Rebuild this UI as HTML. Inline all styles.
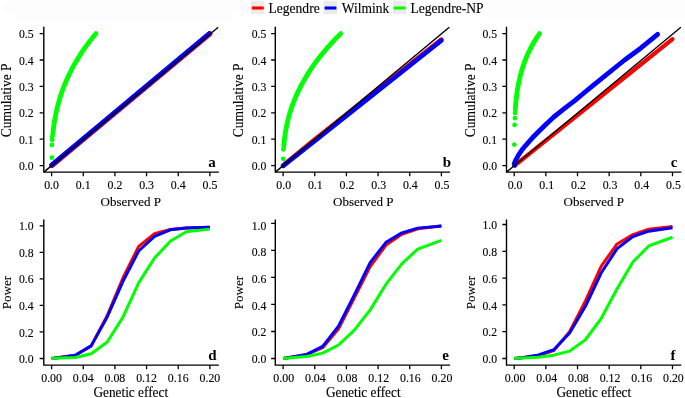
<!DOCTYPE html>
<html lang="en">
<head>
<meta charset="utf-8">
<title>Legendre, Wilmink and Legendre-NP: cumulative P and power</title>
<style>
html,body{margin:0;padding:0;background:#fff;}
body{width:685px;height:398px;overflow:hidden;font-family:"Liberation Serif","Times New Roman",serif;}
svg{display:block;}
text{font-family:"Liberation Serif","Times New Roman",serif;fill:#000;stroke:#000;stroke-width:0.12px;}
text.pl{stroke:none;}
</style>
</head>
<body>
<svg width="685" height="398" viewBox="0 0 685 398" font-family="'Liberation Serif', 'Times New Roman', serif">
<rect width="685" height="398" fill="#fff"/>
<path d="M3 2h244v10h-14v8H16v-8H3zM486 2h199v17H486z" fill="#fdfdfd"/>
<rect x="250.9" y="0.7" width="13.7" height="13.3" fill="#ebebeb"/>
<path d="M251.9 8h11.8" stroke="#ff0000" stroke-width="3.1"/>
<text transform="translate(268.5 12.6) scale(1.005 1.02)" font-size="13.5" text-anchor="start">Legendre</text>
<rect x="323.6" y="0.7" width="13.7" height="13.3" fill="#ebebeb"/>
<path d="M324.6 8h11.8" stroke="#0000ff" stroke-width="3.1"/>
<text transform="translate(341.7 12.6) scale(1.005 1.02)" font-size="13.5" text-anchor="start">Wilmink</text>
<rect x="392.8" y="0.7" width="13.7" height="13.3" fill="#ebebeb"/>
<path d="M393.8 8h11.8" stroke="#00ff00" stroke-width="3.1"/>
<text transform="translate(410.5 12.6) scale(1.005 1.02)" font-size="13.5" text-anchor="start">Legendre-NP</text>
<polyline points="51.92,165.47 209.9,33.73" fill="none" stroke="#ff0000" stroke-width="5.2" stroke-linecap="round" stroke-linejoin="round"/>
<polyline points="51.6,165.07 209.27,33.6" fill="none" stroke="#0000ff" stroke-width="4.8" stroke-linecap="round" stroke-linejoin="round"/>
<polyline points="52.85,133.92 53.11,131.41 53.41,128.9 53.73,126.4 54.09,123.89 54.48,121.38 54.9,118.87 55.37,116.36 55.86,113.86 56.4,111.35 56.97,108.84 57.59,106.33 58.24,103.82 58.94,101.32 59.67,98.81 60.45,96.3 61.27,93.79 62.14,91.28 63.05,88.78 64.01,86.27 65.02,83.76 66.07,81.25 67.17,78.74 68.32,76.24 69.51,73.73 70.76,71.22 72.06,68.71 73.41,66.2 74.81,63.7 76.26,61.19 77.77,58.68 79.33,56.17 80.95,53.66 82.62,51.16 84.35,48.65 86.14,46.14 87.98,43.63 89.88,41.12 91.83,38.62 93.85,36.11 95.92,33.6" fill="none" stroke="#00ff00" stroke-width="4.8" stroke-linecap="round" stroke-linejoin="round"/>
<circle cx="51.92" cy="157.68" r="2.4" fill="#00ff00"/>
<circle cx="51.92" cy="145.01" r="2.4" fill="#00ff00"/>
<circle cx="52.23" cy="139.73" r="2.4" fill="#00ff00"/>
<circle cx="52.23" cy="136.56" r="2.4" fill="#00ff00"/>
<path d="M43.8 172.15L218.2 27.2" stroke="#000" stroke-width="1.4"/>
<path d="M43.8 27.4V172.15H218.2" fill="none" stroke="#000" stroke-width="1.4" stroke-linecap="square"/>
<path d="M39.65 165.6h4.15M39.65 139.2h4.15M39.65 112.8h4.15M39.65 86.4h4.15M39.65 60h4.15M39.65 33.6h4.15M51.6 172.15v4.15M83.26 172.15v4.15M114.92 172.15v4.15M146.58 172.15v4.15M178.24 172.15v4.15M209.9 172.15v4.15" fill="none" stroke="#000" stroke-width="1.3"/>
<text transform="translate(33.6 170.2) scale(0.975 1.06)" font-size="12" text-anchor="end">0.0</text>
<text transform="translate(33.6 143.8) scale(0.975 1.06)" font-size="12" text-anchor="end">0.1</text>
<text transform="translate(33.6 117.4) scale(0.975 1.06)" font-size="12" text-anchor="end">0.2</text>
<text transform="translate(33.6 91) scale(0.975 1.06)" font-size="12" text-anchor="end">0.3</text>
<text transform="translate(33.6 64.6) scale(0.975 1.06)" font-size="12" text-anchor="end">0.4</text>
<text transform="translate(33.6 38.2) scale(0.975 1.06)" font-size="12" text-anchor="end">0.5</text>
<text transform="translate(51.6 189.05) scale(0.99 1.06)" font-size="12" text-anchor="middle">0.0</text>
<text transform="translate(83.26 189.05) scale(0.99 1.06)" font-size="12" text-anchor="middle">0.1</text>
<text transform="translate(114.92 189.05) scale(0.99 1.06)" font-size="12" text-anchor="middle">0.2</text>
<text transform="translate(146.58 189.05) scale(0.99 1.06)" font-size="12" text-anchor="middle">0.3</text>
<text transform="translate(178.24 189.05) scale(0.99 1.06)" font-size="12" text-anchor="middle">0.4</text>
<text transform="translate(209.9 189.05) scale(0.99 1.06)" font-size="12" text-anchor="middle">0.5</text>
<text transform="translate(130.75 205.9) scale(1 1.03)" font-size="13.05" text-anchor="middle">Observed P</text>
<text transform="translate(10.8 100.3) rotate(-90) scale(1 1.02)" font-size="13.5" text-anchor="middle">Cumulative P</text>
<text transform="translate(211.9 166.95)" font-size="15" text-anchor="middle" font-weight="bold" class="pl">a</text>
<polyline points="283.1,165.6 314.76,139.73 441.4,39.67" fill="none" stroke="#ff0000" stroke-width="4.8" stroke-linecap="round" stroke-linejoin="round"/>
<polyline points="283.1,165.86 314.76,141.05 441.4,40.46" fill="none" stroke="#0000ff" stroke-width="4.6" stroke-linecap="round" stroke-linejoin="round"/>
<polyline points="283.8,145.8 284.05,143 284.35,140.19 284.69,137.38 285.09,134.58 285.53,131.78 286.02,128.97 286.57,126.16 287.17,123.36 287.83,120.56 288.54,117.75 289.31,114.94 290.14,112.14 291.03,109.33 291.98,106.53 292.99,103.72 294.07,100.92 295.21,98.11 296.41,95.31 297.68,92.51 299.01,89.7 300.41,86.9 301.88,84.09 303.42,81.28 305.02,78.48 306.7,75.67 308.45,72.87 310.27,70.06 312.16,67.26 314.12,64.45 316.16,61.65 318.27,58.84 320.46,56.04 322.72,53.23 325.06,50.43 327.47,47.62 329.97,44.82 332.54,42.01 335.19,39.21 337.91,36.41 340.72,33.6" fill="none" stroke="#00ff00" stroke-width="4.8" stroke-linecap="round" stroke-linejoin="round"/>
<circle cx="283.26" cy="158.82" r="2.4" fill="#00ff00"/>
<circle cx="283.42" cy="149.23" r="2.4" fill="#00ff00"/>
<path d="M275.3 172.15L449.3 27.2" stroke="#000" stroke-width="1.4"/>
<path d="M275.3 27.4V172.15H449.4" fill="none" stroke="#000" stroke-width="1.4" stroke-linecap="square"/>
<path d="M271.15 165.6h4.15M271.15 139.2h4.15M271.15 112.8h4.15M271.15 86.4h4.15M271.15 60h4.15M271.15 33.6h4.15M283.1 172.15v4.15M314.76 172.15v4.15M346.42 172.15v4.15M378.08 172.15v4.15M409.74 172.15v4.15M441.4 172.15v4.15" fill="none" stroke="#000" stroke-width="1.3"/>
<text transform="translate(266.3 170.2) scale(0.975 1.06)" font-size="12" text-anchor="end">0.0</text>
<text transform="translate(266.3 143.8) scale(0.975 1.06)" font-size="12" text-anchor="end">0.1</text>
<text transform="translate(266.3 117.4) scale(0.975 1.06)" font-size="12" text-anchor="end">0.2</text>
<text transform="translate(266.3 91) scale(0.975 1.06)" font-size="12" text-anchor="end">0.3</text>
<text transform="translate(266.3 64.6) scale(0.975 1.06)" font-size="12" text-anchor="end">0.4</text>
<text transform="translate(266.3 38.2) scale(0.975 1.06)" font-size="12" text-anchor="end">0.5</text>
<text transform="translate(283.7 189.05) scale(0.99 1.06)" font-size="12" text-anchor="middle">0.0</text>
<text transform="translate(315.36 189.05) scale(0.99 1.06)" font-size="12" text-anchor="middle">0.1</text>
<text transform="translate(347.02 189.05) scale(0.99 1.06)" font-size="12" text-anchor="middle">0.2</text>
<text transform="translate(378.68 189.05) scale(0.99 1.06)" font-size="12" text-anchor="middle">0.3</text>
<text transform="translate(410.34 189.05) scale(0.99 1.06)" font-size="12" text-anchor="middle">0.4</text>
<text transform="translate(442 189.05) scale(0.99 1.06)" font-size="12" text-anchor="middle">0.5</text>
<text transform="translate(363.25 205.9) scale(1 1.03)" font-size="13.05" text-anchor="middle">Observed P</text>
<text transform="translate(243.3 100.3) rotate(-90) scale(1 1.02)" font-size="13.5" text-anchor="middle">Cumulative P</text>
<text transform="translate(447 166.95)" font-size="15" text-anchor="middle" font-weight="bold" class="pl">b</text>
<polyline points="515.15,165.07 672.5,39.14" fill="none" stroke="#ff0000" stroke-width="4.2" stroke-linecap="round" stroke-linejoin="round"/>
<polyline points="514.52,165.34 514.2,163.7 515.91,159.79 518.09,155.81 520.31,152.29 522.49,149.21 525.6,145.51 528.61,142.21 532.91,137.3 545.01,125.21 553.81,117 564.6,108.44 575.11,100.39 584.2,92.74 593.19,85.29 624.6,60 640.68,48.2 657.62,34.39" fill="none" stroke="#0000ff" stroke-width="4.8" stroke-linecap="round" stroke-linejoin="round"/>
<polyline points="515.26,109.63 515.39,107.73 515.55,105.83 515.71,103.93 515.89,102.03 516.09,100.13 516.3,98.23 516.53,96.33 516.77,94.43 517.03,92.52 517.32,90.62 517.62,88.72 517.94,86.82 518.29,84.92 518.66,83.02 519.05,81.12 519.47,79.22 519.91,77.32 520.38,75.42 520.87,73.52 521.4,71.62 521.95,69.72 522.54,67.81 523.15,65.91 523.8,64.01 524.48,62.11 525.2,60.21 525.95,58.31 526.74,56.41 527.57,54.51 528.44,52.61 529.35,50.71 530.3,48.81 531.29,46.91 532.32,45 533.4,43.1 534.53,41.2 535.71,39.3 536.93,37.4 538.2,35.5 539.53,33.6" fill="none" stroke="#00ff00" stroke-width="4.8" stroke-linecap="round" stroke-linejoin="round"/>
<circle cx="514.29" cy="144.61" r="2.4" fill="#00ff00"/>
<circle cx="514.61" cy="124.94" r="2.4" fill="#00ff00"/>
<circle cx="514.9" cy="118.08" r="2.4" fill="#00ff00"/>
<circle cx="515.09" cy="113.06" r="2.4" fill="#00ff00"/>
<path d="M506.5 172.15L680.9 27.2" stroke="#000" stroke-width="1.4"/>
<path d="M506.5 27.4V172.15H680.6" fill="none" stroke="#000" stroke-width="1.4" stroke-linecap="square"/>
<path d="M502.35 165.6h4.15M502.35 139.2h4.15M502.35 112.8h4.15M502.35 86.4h4.15M502.35 60h4.15M502.35 33.6h4.15M514.2 172.15v4.15M545.86 172.15v4.15M577.52 172.15v4.15M609.18 172.15v4.15M640.84 172.15v4.15M672.5 172.15v4.15" fill="none" stroke="#000" stroke-width="1.3"/>
<text transform="translate(497.1 170.2) scale(0.975 1.06)" font-size="12" text-anchor="end">0.0</text>
<text transform="translate(497.1 143.8) scale(0.975 1.06)" font-size="12" text-anchor="end">0.1</text>
<text transform="translate(497.1 117.4) scale(0.975 1.06)" font-size="12" text-anchor="end">0.2</text>
<text transform="translate(497.1 91) scale(0.975 1.06)" font-size="12" text-anchor="end">0.3</text>
<text transform="translate(497.1 64.6) scale(0.975 1.06)" font-size="12" text-anchor="end">0.4</text>
<text transform="translate(497.1 38.2) scale(0.975 1.06)" font-size="12" text-anchor="end">0.5</text>
<text transform="translate(515.1 189.05) scale(0.99 1.06)" font-size="12" text-anchor="middle">0.0</text>
<text transform="translate(546.76 189.05) scale(0.99 1.06)" font-size="12" text-anchor="middle">0.1</text>
<text transform="translate(578.42 189.05) scale(0.99 1.06)" font-size="12" text-anchor="middle">0.2</text>
<text transform="translate(610.08 189.05) scale(0.99 1.06)" font-size="12" text-anchor="middle">0.3</text>
<text transform="translate(641.74 189.05) scale(0.99 1.06)" font-size="12" text-anchor="middle">0.4</text>
<text transform="translate(673.4 189.05) scale(0.99 1.06)" font-size="12" text-anchor="middle">0.5</text>
<text transform="translate(593.85 205.9) scale(1 1.03)" font-size="13.05" text-anchor="middle">Observed P</text>
<text transform="translate(474.6 100.3) rotate(-90) scale(1 1.02)" font-size="13.5" text-anchor="middle">Cumulative P</text>
<text transform="translate(674 166.95)" font-size="15" text-anchor="middle" font-weight="bold" class="pl">c</text>
<polyline points="51.6,358.5 59.52,357.44 75.34,355.18 91.18,345.89 107.01,316.04 122.84,278.22 138.66,246.37 154.5,233.76 170.32,229.52 186.16,228.06 209.9,227.13" fill="none" stroke="#ff0000" stroke-width="3" stroke-linecap="butt" stroke-linejoin="round"/>
<polyline points="51.6,358.5 59.52,357.44 75.34,355.18 91.18,345.89 107.01,317.36 122.84,281.53 138.66,251.01 154.5,236.42 170.32,229.78 186.16,228.06 209.9,227.13" fill="none" stroke="#0000ff" stroke-width="3" stroke-linecap="butt" stroke-linejoin="round"/>
<polyline points="51.6,358.5 59.52,358.1 75.34,357.44 91.18,353.72 107.01,342.31 122.84,317.36 138.66,282.86 154.5,258.05 170.32,241.33 186.16,231.77 209.9,229.12" fill="none" stroke="#00ff00" stroke-width="3" stroke-linecap="butt" stroke-linejoin="round"/>
<path d="M43.8 220.3V365.1H218.2" fill="none" stroke="#000" stroke-width="1.4" stroke-linecap="square"/>
<path d="M39.65 358.5h4.15M39.65 331.96h4.15M39.65 305.42h4.15M39.65 278.88h4.15M39.65 252.34h4.15M39.65 225.8h4.15M51.6 365.1v4.15M83.26 365.1v4.15M114.92 365.1v4.15M146.58 365.1v4.15M178.24 365.1v4.15M209.9 365.1v4.15" fill="none" stroke="#000" stroke-width="1.3"/>
<text transform="translate(33.6 363.1) scale(0.975 1.06)" font-size="12" text-anchor="end">0.0</text>
<text transform="translate(33.6 336.56) scale(0.975 1.06)" font-size="12" text-anchor="end">0.2</text>
<text transform="translate(33.6 310.02) scale(0.975 1.06)" font-size="12" text-anchor="end">0.4</text>
<text transform="translate(33.6 283.48) scale(0.975 1.06)" font-size="12" text-anchor="end">0.6</text>
<text transform="translate(33.6 256.94) scale(0.975 1.06)" font-size="12" text-anchor="end">0.8</text>
<text transform="translate(33.6 230.4) scale(0.975 1.06)" font-size="12" text-anchor="end">1.0</text>
<text transform="translate(51.6 382) scale(0.99 1.06)" font-size="12" text-anchor="middle">0.00</text>
<text transform="translate(83.26 382) scale(0.99 1.06)" font-size="12" text-anchor="middle">0.04</text>
<text transform="translate(114.92 382) scale(0.99 1.06)" font-size="12" text-anchor="middle">0.08</text>
<text transform="translate(146.58 382) scale(0.99 1.06)" font-size="12" text-anchor="middle">0.12</text>
<text transform="translate(178.24 382) scale(0.99 1.06)" font-size="12" text-anchor="middle">0.16</text>
<text transform="translate(209.9 382) scale(0.99 1.06)" font-size="12" text-anchor="middle">0.20</text>
<text transform="translate(130.75 396.7) scale(1 1.03)" font-size="13.3" text-anchor="middle">Genetic effect</text>
<text transform="translate(10.8 292.5) rotate(-90) scale(1 1.02)" font-size="13.1" text-anchor="middle">Power</text>
<text transform="translate(212.5 359.9)" font-size="15" text-anchor="middle" font-weight="bold" class="pl">d</text>
<polyline points="283.1,358.5 291.02,357.15 306.85,354.45 322.68,347.69 338.51,328.78 354.34,297.7 370.17,266.63 386,245.02 401.83,234.21 417.66,228.8 441.4,226.1" fill="none" stroke="#ff0000" stroke-width="3" stroke-linecap="butt" stroke-linejoin="round"/>
<polyline points="283.1,358.5 291.02,357.15 306.85,354.45 322.68,346.34 338.51,326.08 354.34,295 370.17,262.58 386,242.31 401.83,232.86 417.66,228.13 441.4,226.1" fill="none" stroke="#0000ff" stroke-width="3" stroke-linecap="butt" stroke-linejoin="round"/>
<polyline points="283.1,358.5 291.02,357.82 306.85,356.47 322.68,353.1 338.51,344.99 354.34,330.13 370.17,309.86 386,284.19 401.83,263.93 417.66,249.07 441.4,240.29" fill="none" stroke="#00ff00" stroke-width="3" stroke-linecap="butt" stroke-linejoin="round"/>
<path d="M275.3 220.3V365.1H449.4" fill="none" stroke="#000" stroke-width="1.4" stroke-linecap="square"/>
<path d="M271.15 358.5h4.15M271.15 331.48h4.15M271.15 304.46h4.15M271.15 277.44h4.15M271.15 250.42h4.15M271.15 223.4h4.15M283.1 365.1v4.15M314.76 365.1v4.15M346.42 365.1v4.15M378.08 365.1v4.15M409.74 365.1v4.15M441.4 365.1v4.15" fill="none" stroke="#000" stroke-width="1.3"/>
<text transform="translate(266.3 363.1) scale(0.975 1.06)" font-size="12" text-anchor="end">0.0</text>
<text transform="translate(266.3 336.42) scale(0.975 1.06)" font-size="12" text-anchor="end">0.2</text>
<text transform="translate(266.3 309.74) scale(0.975 1.06)" font-size="12" text-anchor="end">0.4</text>
<text transform="translate(266.3 283.06) scale(0.975 1.06)" font-size="12" text-anchor="end">0.6</text>
<text transform="translate(266.3 256.38) scale(0.975 1.06)" font-size="12" text-anchor="end">0.8</text>
<text transform="translate(266.3 229.7) scale(0.975 1.06)" font-size="12" text-anchor="end">1.0</text>
<text transform="translate(283.7 382) scale(0.99 1.06)" font-size="12" text-anchor="middle">0.00</text>
<text transform="translate(315.36 382) scale(0.99 1.06)" font-size="12" text-anchor="middle">0.04</text>
<text transform="translate(347.02 382) scale(0.99 1.06)" font-size="12" text-anchor="middle">0.08</text>
<text transform="translate(378.68 382) scale(0.99 1.06)" font-size="12" text-anchor="middle">0.12</text>
<text transform="translate(410.34 382) scale(0.99 1.06)" font-size="12" text-anchor="middle">0.16</text>
<text transform="translate(442 382) scale(0.99 1.06)" font-size="12" text-anchor="middle">0.20</text>
<text transform="translate(363.25 396.7) scale(1 1.03)" font-size="13.3" text-anchor="middle">Genetic effect</text>
<text transform="translate(243.3 292.5) rotate(-90) scale(1 1.02)" font-size="13.1" text-anchor="middle">Power</text>
<text transform="translate(445.5 359.9)" font-size="15" text-anchor="middle" font-weight="bold" class="pl">e</text>
<polyline points="514.2,358.5 522.12,357.7 537.95,355.55 553.78,350.46 569.61,331.7 585.44,300.88 601.27,266.04 617.1,243.93 632.93,234.55 648.76,229.19 672.5,226.51" fill="none" stroke="#ff0000" stroke-width="3" stroke-linecap="butt" stroke-linejoin="round"/>
<polyline points="514.2,358.5 522.12,357.7 537.95,355.15 553.78,349.79 569.61,333.04 585.44,306.24 601.27,272.74 617.1,248.62 632.93,236.56 648.76,231.2 672.5,227.85" fill="none" stroke="#0000ff" stroke-width="3" stroke-linecap="butt" stroke-linejoin="round"/>
<polyline points="514.2,358.5 522.12,358.1 537.95,357.16 553.78,355.15 569.61,351.13 585.44,339.74 601.27,318.3 617.1,288.82 632.93,262.02 648.76,245.94 672.5,237.23" fill="none" stroke="#00ff00" stroke-width="3" stroke-linecap="butt" stroke-linejoin="round"/>
<path d="M506.5 220.3V365.1H680.6" fill="none" stroke="#000" stroke-width="1.4" stroke-linecap="square"/>
<path d="M502.35 358.5h4.15M502.35 331.7h4.15M502.35 304.9h4.15M502.35 278.1h4.15M502.35 251.3h4.15M502.35 224.5h4.15M514.2 365.1v4.15M545.86 365.1v4.15M577.52 365.1v4.15M609.18 365.1v4.15M640.84 365.1v4.15M672.5 365.1v4.15" fill="none" stroke="#000" stroke-width="1.3"/>
<text transform="translate(497.1 363.1) scale(0.975 1.06)" font-size="12" text-anchor="end">0.0</text>
<text transform="translate(497.1 336.3) scale(0.975 1.06)" font-size="12" text-anchor="end">0.2</text>
<text transform="translate(497.1 309.5) scale(0.975 1.06)" font-size="12" text-anchor="end">0.4</text>
<text transform="translate(497.1 282.7) scale(0.975 1.06)" font-size="12" text-anchor="end">0.6</text>
<text transform="translate(497.1 255.9) scale(0.975 1.06)" font-size="12" text-anchor="end">0.8</text>
<text transform="translate(497.1 229.1) scale(0.975 1.06)" font-size="12" text-anchor="end">1.0</text>
<text transform="translate(515.1 382) scale(0.99 1.06)" font-size="12" text-anchor="middle">0.00</text>
<text transform="translate(546.76 382) scale(0.99 1.06)" font-size="12" text-anchor="middle">0.04</text>
<text transform="translate(578.42 382) scale(0.99 1.06)" font-size="12" text-anchor="middle">0.08</text>
<text transform="translate(610.08 382) scale(0.99 1.06)" font-size="12" text-anchor="middle">0.12</text>
<text transform="translate(641.74 382) scale(0.99 1.06)" font-size="12" text-anchor="middle">0.16</text>
<text transform="translate(673.4 382) scale(0.99 1.06)" font-size="12" text-anchor="middle">0.20</text>
<text transform="translate(593.85 396.7) scale(1 1.03)" font-size="13.3" text-anchor="middle">Genetic effect</text>
<text transform="translate(474.6 292.5) rotate(-90) scale(1 1.02)" font-size="13.1" text-anchor="middle">Power</text>
<text transform="translate(673 359.9)" font-size="15" text-anchor="middle" font-weight="bold" class="pl">f</text>
</svg>
</body>
</html>
